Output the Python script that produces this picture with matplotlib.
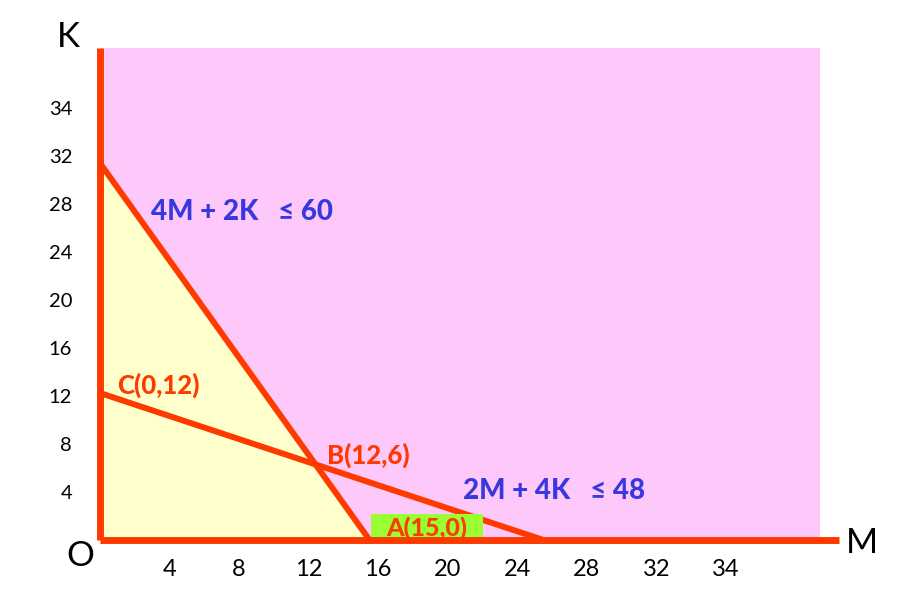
import matplotlib
matplotlib.use("Agg")
import matplotlib.pyplot as plt
from matplotlib.patches import Polygon, Rectangle
from matplotlib import font_manager as fm

# ---- data ----
x_tick_labels = ["4", "8", "12", "16", "20", "24", "28", "32", "34"]
y_tick_labels = ["4", "8", "12", "16", "20", "24", "28", "32", "34"]
tick_step = 4

# constraint lines as drawn: intercepts (M-intercept, K-intercept)
line1_M, line1_K = 15.5, 31.4     # 4M + 2K <= 60
line2_M, line2_K = 25.5, 12.25    # 2M + 4K <= 48
point_B = (12.4, 6.3)
point_C = (0.0, 12.25)
point_A = (15.5, 0.0)

constraint1_text = "4M + 2K   \u2264 60"
constraint2_text = "2M + 4K   \u2264 48"
label_A = "A(15,0)"
label_B = "B(12,6)"
label_C = "C(0,12)"

xmax, ymax = 41.4, 41.0
axis_x_end = 42.5

RED = "#FF3A00"
BLUE = "#3838E0"
PINK = "#FFC8FA"
YELLOW = "#FFFFCC"
GREEN = "#99FF33"

plt.rcParams['font.family'] = ['Lato', 'DejaVu Sans']

# locate a heavy Lato file explicitly
bold_file = None
for wanted in (900, 800):
    for f in fm.fontManager.ttflist:
        if f.name == 'Lato' and f.weight == wanted and f.style == 'normal':
            bold_file = f.fname
            break
    if bold_file:
        break


def bold(size):
    if bold_file:
        return dict(fontproperties=fm.FontProperties(fname=bold_file, size=size))
    return dict(fontweight='bold', fontsize=size)


fig = plt.figure(figsize=(9.19, 6.0), dpi=100)
W, H = 919, 600
ax = fig.add_axes([100 / W, 60 / H, 720 / W, 492 / H])
ax.set_xlim(0, xmax)
ax.set_ylim(0, ymax)
ax.set_facecolor(PINK)
for s in ax.spines.values():
    s.set_visible(False)

xt = [tick_step * (i + 1) for i in range(len(x_tick_labels))]
yt = [tick_step * (i + 1) for i in range(len(y_tick_labels))]
ax.set_xticks(xt, x_tick_labels)
ax.set_yticks(yt, y_tick_labels)
ax.tick_params(axis='x', length=0, pad=14, labelsize=17)
ax.tick_params(axis='y', length=0, pad=20, labelsize=14.5)

# feasible region (yellow) under line 1
ax.add_patch(Polygon([(0, 0), (0, line1_K), (line1_M, 0)], closed=True,
                     facecolor=YELLOW, edgecolor='none', zorder=1))

# constraint lines
ax.plot([0, line1_M], [line1_K, 0], color=RED, lw=4.3, zorder=3,
        solid_capstyle='butt', clip_on=False)
ax.plot([0, line2_M], [line2_K, 0], color=RED, lw=4.3, zorder=3,
        solid_capstyle='butt', clip_on=False)

# green box for A
ax.add_patch(Rectangle((point_A[0] + 0.1, 0), 6.45, 2.2, facecolor=GREEN,
                       edgecolor='none', zorder=4, clip_on=False))

# axes
ax.plot([0, 0], [0, ymax], color=RED, lw=5, zorder=5, clip_on=False,
        solid_capstyle='butt')
ax.plot([0, axis_x_end], [0, 0], color=RED, lw=5, zorder=5, clip_on=False,
        solid_capstyle='butt')

# labels
ax.text(point_A[0] + 3.3, 1.0, label_A, color=RED, ha='center', va='center',
        zorder=6, **bold(18))
ax.text(point_B[0] + 0.65, point_B[1] + 0.8, label_B, color=RED,
        ha='left', va='center', zorder=6, **bold(18.5))
ax.text(point_C[0] + 1.0, point_C[1] + 0.65, label_C, color=RED,
        ha='left', va='center', zorder=6, **bold(18.5))

ax.text(2.95, 27.3, constraint1_text, color=BLUE, ha='left', va='center',
        zorder=6, **bold(20))
ax.text(20.85, 4.1, constraint2_text, color=BLUE, ha='left', va='center',
        zorder=6, **bold(20))

# axis names
fig.text(68 / W, 1 - 37 / H, "K", fontsize=25, ha='center', va='center')
fig.text(862 / W, 1 - 543 / H, "M", fontsize=25, ha='center', va='center')
fig.text(80 / W, 1 - 556 / H, "O", fontsize=25, ha='center', va='center')

fig.savefig("out.png", dpi=100)
